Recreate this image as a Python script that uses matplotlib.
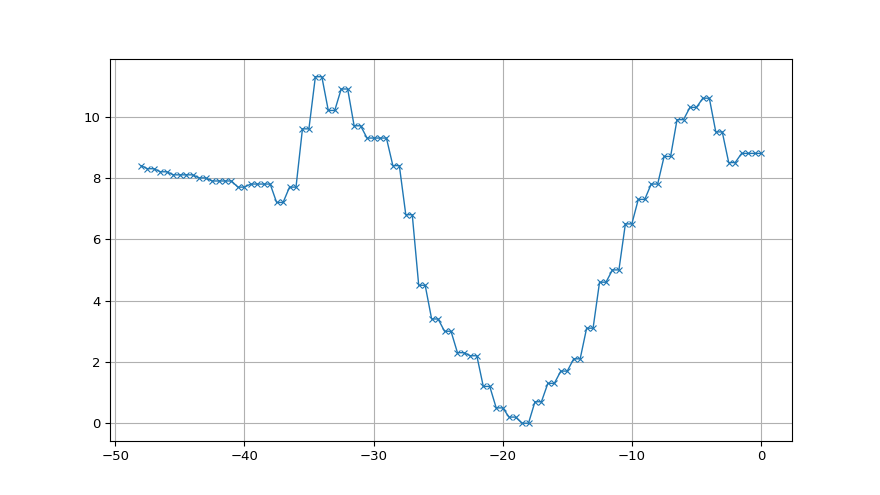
import matplotlib
matplotlib.use('Agg')
import matplotlib.pyplot as plt
import numpy as np

plt.rcParams['font.family'] = ['Liberation Sans Narrow', 'DejaVu Sans']

## data
# -------------------------------------------------------------
x_start = -48.0
y_start = 8.4
# one value per integer x from -47 to 0, each held for two half-steps
step_x = list(range(-47, 1))
step_y = [8.3, 8.2, 8.1, 8.1, 8.0, 7.9, 7.9, 7.7, 7.8, 7.8,
          7.2, 7.7, 9.6, 11.3, 10.2, 10.9, 9.7, 9.3, 9.3, 8.4,
          6.8, 4.5, 3.4, 3.0, 2.3, 2.2, 1.2, 0.5, 0.2, 0.0,
          0.7, 1.3, 1.7, 2.1, 3.1, 4.6, 5.0, 6.5, 7.3, 7.8,
          8.7, 9.9, 10.3, 10.6, 9.5, 8.5, 8.8, 8.8]

xs = [x_start]
ys = [y_start]
for k, v in zip(step_x, step_y):
    xs += [k - 0.5, k]
    ys += [v, v]
# -------------------------------------------------------------

fig, ax = plt.subplots(figsize=(8.8, 4.95), dpi=100)
ax.plot(xs, ys, marker='x', markersize=4, linewidth=1, color='tab:blue',
        markeredgewidth=0.8)
ax.grid(True)
ax.tick_params(labelsize=9.5)
plt.savefig('out.png', dpi=100)
